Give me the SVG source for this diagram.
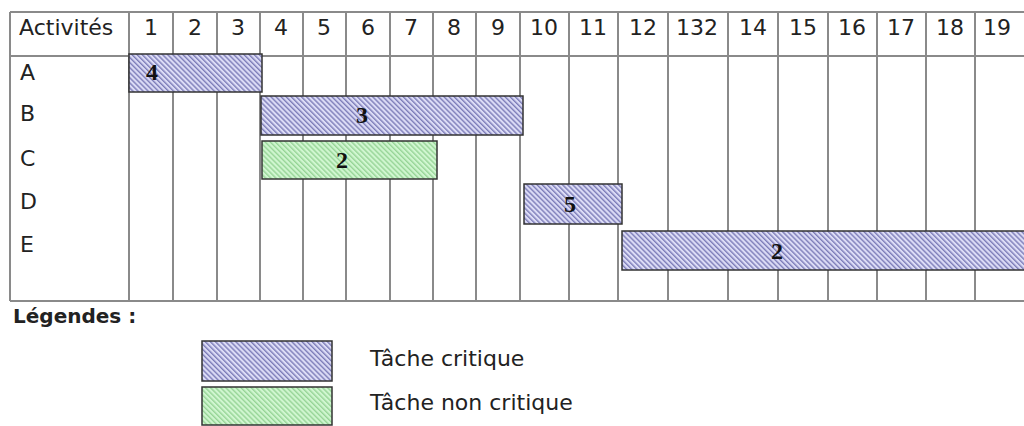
<svg xmlns="http://www.w3.org/2000/svg" width="1024" height="426" viewBox="0 0 1024 426">
<style>
.t{font-family:"DejaVu Sans",sans-serif;font-size:22px;fill:#222}
.h{font-family:"DejaVu Sans",sans-serif;font-size:22px;fill:#222;text-anchor:middle}
.n{font-family:"Liberation Serif",serif;font-size:24px;font-weight:bold;fill:#111;text-anchor:middle}
.g{stroke:#8a8a8a;stroke-width:2;fill:none}
.crit{fill:url(#hb);stroke:#333;stroke-width:1.5}
.non{fill:url(#hg);stroke:#333;stroke-width:1.5}
</style>
<defs>
<pattern id="hb" patternUnits="userSpaceOnUse" width="3.6" height="4" patternTransform="rotate(-45)">
<rect width="3.6" height="4" fill="#dcdcf6"/>
<rect width="1.4" height="4" fill="#7c7cb8"/>
</pattern>
<pattern id="hg" patternUnits="userSpaceOnUse" width="3.6" height="4" patternTransform="rotate(-45)">
<rect width="3.6" height="4" fill="#d0f6d0"/>
<rect width="1.4" height="4" fill="#96d496"/>
</pattern>
</defs>
<rect width="1024" height="426" fill="#fff"/>
<g id="grid">
<path class="g" d="M10 12H1024M10 56H1024M10 301H1024M10 12V301M129 12V301M173 12V301M217 12V301M260 12V301M303 12V301M346 12V301M390 12V301M433 12V301M476 12V301M520 12V301M569 12V301M618 12V301M668 12V301M728 12V301M778 12V301M828 12V301M877 12V301M926 12V301M975 12V301"/>
</g>
<g id="header">
<text class="t" x="19" y="35">Activités</text>
<text class="h" x="151" y="35">1</text>
<text class="h" x="195" y="35">2</text>
<text class="h" x="238" y="35">3</text>
<text class="h" x="281" y="35">4</text>
<text class="h" x="324" y="35">5</text>
<text class="h" x="368" y="35">6</text>
<text class="h" x="411" y="35">7</text>
<text class="h" x="454" y="35">8</text>
<text class="h" x="498" y="35">9</text>
<text class="h" x="544" y="35">10</text>
<text class="h" x="593" y="35">11</text>
<text class="h" x="643" y="35">12</text>
<text class="h" x="697" y="35">132</text>
<text class="h" x="753" y="35">14</text>
<text class="h" x="803" y="35">15</text>
<text class="h" x="852" y="35">16</text>
<text class="h" x="901" y="35">17</text>
<text class="h" x="950" y="35">18</text>
<text class="h" x="997" y="35">19</text>
</g>
<g id="rows">
<text class="t" x="20" y="80">A</text>
<text class="t" x="20" y="121">B</text>
<text class="t" x="20" y="166">C</text>
<text class="t" x="20" y="209">D</text>
<text class="t" x="20" y="252">E</text>
</g>
<g id="taskA"><rect class="crit" x="129" y="54" width="133" height="38"/><text class="n" x="152" y="80">4</text></g>
<g id="taskB"><rect class="crit" x="261" y="96" width="262" height="39"/><text class="n" x="362" y="123">3</text></g>
<g id="taskC"><rect class="non" x="262" y="141" width="175" height="38"/><text class="n" x="342" y="168">2</text></g>
<g id="taskD"><rect class="crit" x="524" y="184" width="98" height="40"/><text class="n" x="570" y="212">5</text></g>
<g id="taskE"><rect class="crit" x="622" y="231" width="410" height="39"/><text class="n" x="777" y="259">2</text></g>
<g id="legend">
<text x="13" y="323" style="font-family:'DejaVu Sans',sans-serif;font-size:20px;font-weight:bold;fill:#222">Légendes :</text>
<rect class="crit" x="202" y="341" width="130" height="40"/>
<rect class="non" x="202" y="387" width="130" height="38"/>
<text class="t" x="370" y="366">Tâche critique</text>
<text class="t" x="370" y="410">Tâche non critique</text>
</g>
</svg>
